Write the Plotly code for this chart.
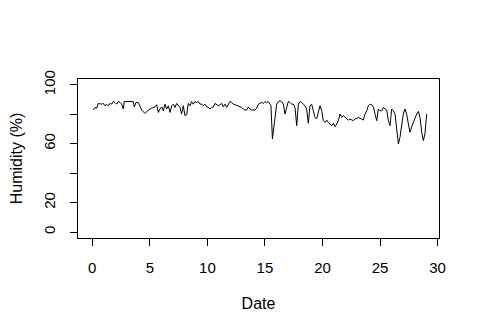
import plotly.graph_objects as go

dates = [0.09, 0.23, 0.38, 0.52, 0.81, 0.96, 1.10, 1.25, 1.39, 1.54, 1.68, 1.83, 1.97, 2.12, 2.26, 2.41,
         2.55, 2.70, 2.78, 3.13, 3.56, 3.65, 3.80, 4.00, 4.14, 4.29, 4.58, 4.72, 4.87, 5.16, 5.45, 5.59,
         5.74, 5.88, 6.03, 6.17, 6.32, 6.46, 6.61, 6.75, 6.90, 7.04, 7.19, 7.33, 7.47, 7.62, 7.76, 7.91,
         8.05, 8.20, 8.34, 8.49, 8.63, 8.78, 8.92, 9.07, 9.21, 9.36, 9.50, 9.65, 9.79, 9.94, 10.08, 10.23,
         10.37, 10.52, 10.66, 10.81, 10.95, 11.09, 11.24, 11.38, 11.53, 11.67, 11.82, 11.96, 12.11, 12.25,
         12.40, 12.69, 12.98, 13.12, 13.27, 13.41, 13.56, 13.70, 13.85, 14.14, 14.28, 14.43, 14.72, 14.86,
         15.00, 15.15, 15.29, 15.44, 15.52, 15.65, 15.87, 16.02, 16.16, 16.31, 16.45, 16.60, 16.74, 16.89,
         17.03, 17.18, 17.32, 17.47, 17.61, 17.76, 17.90, 18.05, 18.19, 18.33, 18.48, 18.62, 18.77, 18.91,
         19.06, 19.20, 19.35, 19.49, 19.64, 19.78, 19.93, 20.07, 20.22, 20.36, 20.51, 20.65, 20.80, 20.94,
         21.09, 21.23, 21.38, 21.52, 21.67, 21.81, 21.96, 22.10, 22.24, 22.39, 22.53, 22.68, 22.82, 23.11,
         23.40, 23.55, 23.69, 23.84, 23.98, 24.13, 24.27, 24.42, 24.56, 24.71, 24.85, 25.00, 25.14, 25.29,
         25.43, 25.58, 25.72, 25.86, 26.01, 26.15, 26.30, 26.44, 26.59, 26.73, 26.88, 27.02, 27.17, 27.31,
         27.46, 27.60, 27.75, 27.89, 28.04, 28.18, 28.33, 28.47, 28.62, 28.76, 28.90, 29.05]

humidity = [83.1, 84.7, 84.2, 87.4, 86.9, 87.4, 85.8, 86.9, 85.8, 87.4, 86.9, 88.7, 88.1, 86.9, 88.7, 88.1,
            86.9, 83.6, 88.7, 88.7, 88.7, 85.1, 88.1, 88.1, 85.8, 82.9, 80.6, 82.0, 82.9, 84.2, 85.1, 86.5,
            81.3, 83.6, 85.1, 82.4, 86.9, 83.6, 85.8, 81.3, 85.8, 86.9, 84.7, 87.4, 85.8, 84.7, 80.2, 85.8,
            79.1, 79.7, 87.4, 85.8, 88.7, 86.9, 88.7, 88.1, 88.7, 86.9, 86.9, 85.8, 86.9, 85.1, 84.7, 83.6,
            84.7, 85.1, 87.4, 86.5, 85.8, 86.5, 87.4, 85.1, 86.9, 84.7, 87.4, 88.7, 88.1, 86.9,
            86.5, 85.8, 84.7, 83.6, 82.9, 82.9, 85.1, 83.6, 82.9, 82.9, 84.2, 86.9, 88.1, 87.4,
            88.7, 87.9, 88.7, 86.9, 86.0, 63.3, 80.2, 86.9, 88.7, 89.2, 88.7, 86.9, 80.2, 84.7,
            88.7, 88.1, 86.9, 86.9, 84.7, 72.3, 86.9, 88.7, 88.1, 86.9, 85.8, 83.6, 73.9, 85.8,
            86.9, 82.4, 77.9, 76.8, 82.4, 85.8, 82.4, 75.7, 74.5, 76.1, 74.5, 73.4, 72.3, 73.9,
            71.6, 73.4, 75.7, 80.2, 77.9, 79.1, 77.9, 76.8, 76.1, 76.8, 76.1, 75.7, 76.8, 77.9,
            76.8, 76.1, 80.2, 82.4, 85.8, 86.9, 86.5, 85.1, 80.2, 75.7, 83.6, 82.4, 82.4, 84.7,
            83.6, 82.9, 75.7, 72.3, 83.6, 82.4, 80.2, 68.9, 59.9, 64.4, 72.3, 80.2, 83.6, 80.2,
            73.4, 67.8, 71.6, 74.5, 77.9, 80.2, 82.0, 77.9, 67.8, 62.2, 66.7, 80.2]

x_ticks = [0, 5, 10, 15, 20, 25, 30]
y_ticks = [0, 20, 40, 60, 80, 100]
y_tick_text = ["0", "20", "", "60", "", "100"]

fig = go.Figure()
fig.add_trace(go.Scatter(x=dates, y=humidity, mode="lines",
                         line=dict(color="black", width=1), showlegend=False))

family = "Liberation Sans, Arial, sans-serif"
tick_font = dict(family=family, size=15, color="black")
title_font = dict(family=family, size=16, color="black")

fig.update_layout(
    width=472, height=327,
    margin=dict(l=70, r=41, t=71, b=97),
    paper_bgcolor="white", plot_bgcolor="white",
    font=tick_font,
    xaxis=dict(range=[-1.24, 30.12], tickvals=x_ticks, ticks="outside", ticklen=7,
               tickcolor="black", showline=True, linecolor="black", linewidth=1, mirror=True,
               showgrid=False, zeroline=False, ticklabelstandoff=9, automargin=False,
               tickfont=tick_font,
               title=dict(text="Date", standoff=22, font=title_font)),
    yaxis=dict(range=[-4, 104], tickvals=y_ticks, ticktext=y_tick_text, ticks="outside",
               ticklen=7, tickcolor="black", showline=True, linecolor="black", linewidth=1,
               mirror=True, showgrid=False, zeroline=False, tickangle=-90, ticklabelstandoff=9,
               automargin=False, tickfont=tick_font,
               title=dict(text="Humidity (%)", standoff=16, font=title_font)),
)

fig.write_html("out.html")
